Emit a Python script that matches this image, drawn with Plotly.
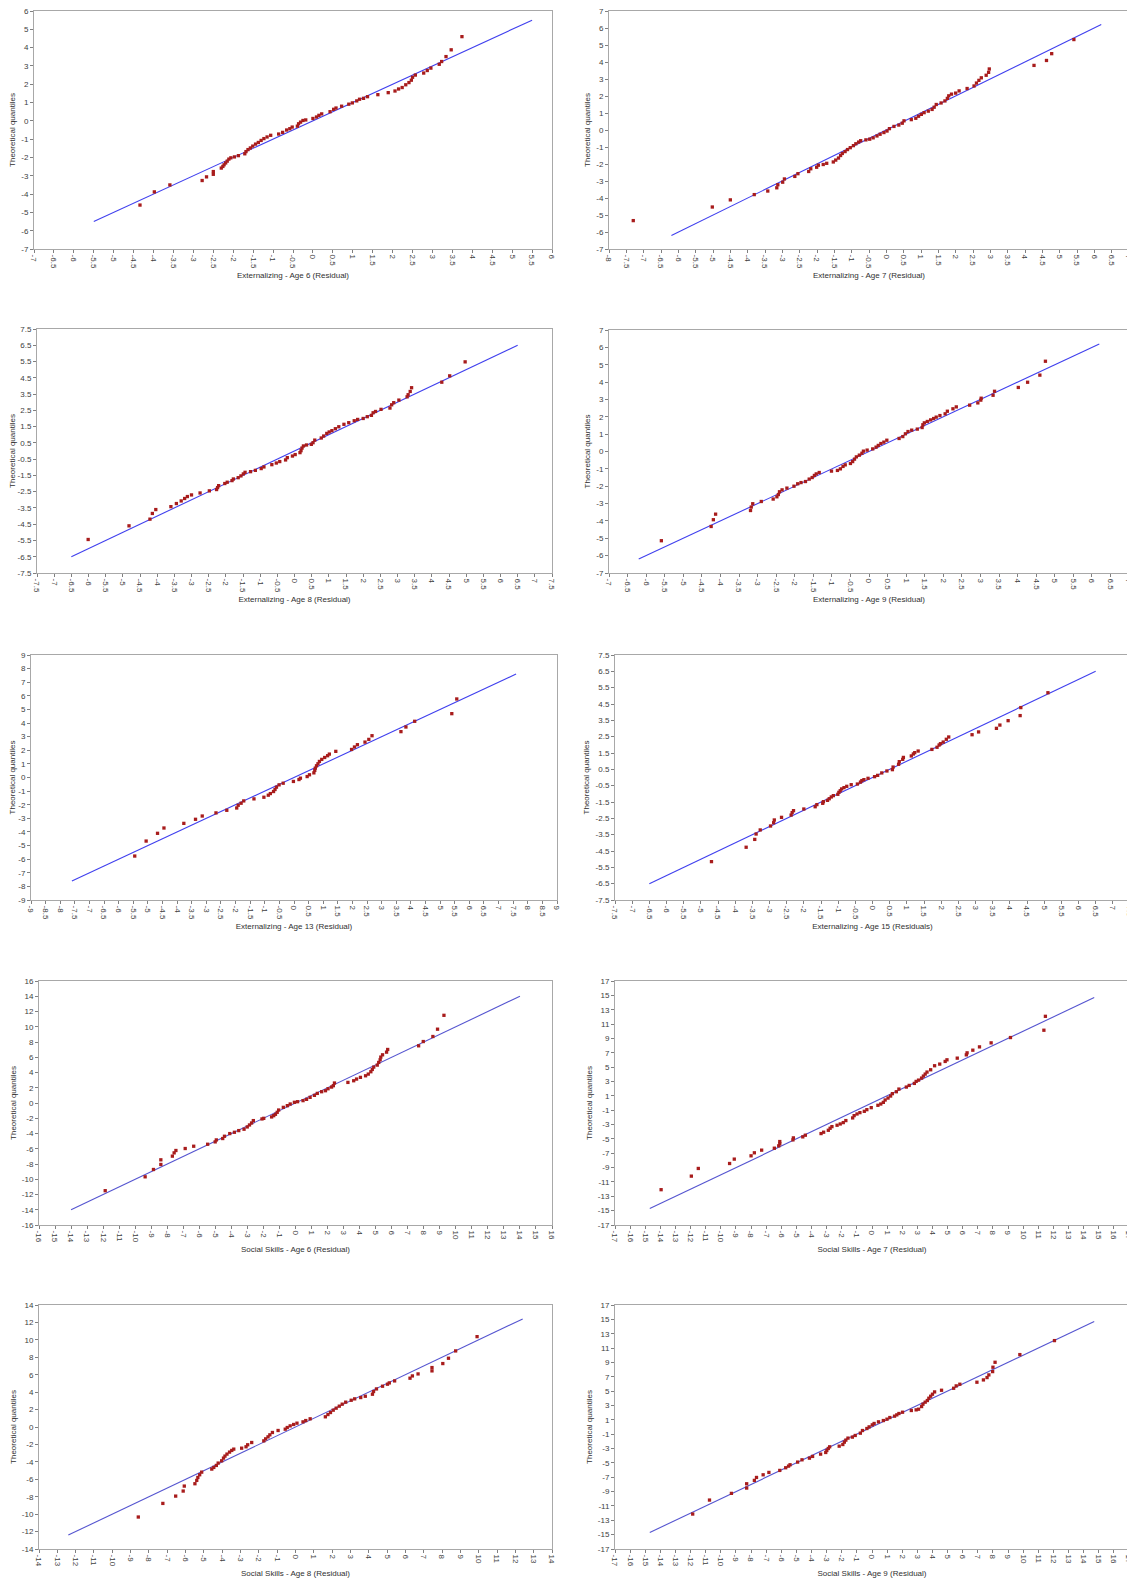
import numpy as np
import plotly.graph_objects as go

# ---------------- data (residual, theoretical quantile) ----------------
EXT6_X = [-4.34,-3.98,-3.59,-2.78,-2.67,-2.5,-2.5,-2.3,-2.26,-2.23,-2.19,-2.15,-2.11,-2.06,-1.97,-1.87,-1.71,-1.68,-1.63,-1.57,-1.51,-1.44,-1.37,-1.3,-1.23,-1.15,-1.06,-0.86,-0.76,-0.66,-0.58,-0.52,-0.39,-0.36,-0.31,-0.25,-0.18,0.0,0.09,0.15,0.22,0.43,0.52,0.58,0.72,0.9,0.99,1.1,1.17,1.27,1.37,1.63,1.89,2.06,2.15,2.24,2.33,2.41,2.47,2.5,2.57,2.78,2.87,2.96,3.17,3.23,3.34,3.47,3.74]
EXT6_Y = [-4.6,-3.88,-3.5,-3.26,-3.06,-2.92,-2.77,-2.58,-2.49,-2.4,-2.3,-2.2,-2.09,-2.02,-1.97,-1.9,-1.8,-1.68,-1.57,-1.48,-1.38,-1.27,-1.18,-1.07,-0.97,-0.88,-0.79,-0.72,-0.63,-0.5,-0.43,-0.34,-0.29,-0.16,-0.07,0.02,0.05,0.13,0.21,0.3,0.38,0.5,0.63,0.7,0.8,0.91,0.98,1.09,1.18,1.23,1.32,1.43,1.54,1.63,1.74,1.82,1.97,2.09,2.22,2.38,2.5,2.61,2.75,2.88,3.09,3.24,3.51,3.88,4.6]

EXT7_X = [-7.3,-5.02,-4.5,-3.81,-3.42,-3.16,-3.13,-2.99,-2.94,-2.64,-2.55,-2.24,-2.18,-2.01,-1.96,-1.82,-1.72,-1.53,-1.46,-1.38,-1.32,-1.27,-1.19,-1.12,-1.04,-0.95,-0.88,-0.8,-0.74,-0.59,-0.48,-0.38,-0.27,-0.18,-0.07,0.02,0.09,0.22,0.36,0.46,0.51,0.72,0.85,0.93,1.01,1.09,1.21,1.32,1.38,1.44,1.58,1.69,1.76,1.8,1.88,2.0,2.1,2.33,2.53,2.6,2.67,2.74,2.88,2.95,2.97,4.26,4.62,4.77,5.41]
EXT7_Y = [-5.33,-4.53,-4.11,-3.8,-3.59,-3.4,-3.22,-3.07,-2.88,-2.73,-2.57,-2.44,-2.28,-2.19,-2.07,-2.03,-1.96,-1.88,-1.77,-1.65,-1.5,-1.38,-1.27,-1.15,-1.04,-0.92,-0.81,-0.71,-0.63,-0.58,-0.54,-0.46,-0.35,-0.25,-0.15,-0.06,0.08,0.21,0.29,0.4,0.54,0.61,0.69,0.81,0.92,1.02,1.11,1.21,1.34,1.5,1.59,1.71,1.86,2.01,2.11,2.17,2.3,2.44,2.59,2.76,2.92,3.07,3.22,3.39,3.59,3.8,4.09,4.49,5.32]

EXT8_X = [-6.01,-4.82,-4.21,-4.14,-4.04,-3.6,-3.44,-3.3,-3.2,-3.12,-3.0,-2.75,-2.48,-2.27,-2.24,-2.21,-2.03,-1.96,-1.82,-1.78,-1.64,-1.56,-1.49,-1.44,-1.28,-1.14,-0.97,-0.89,-0.66,-0.53,-0.43,-0.26,-0.21,-0.06,0.02,0.16,0.19,0.22,0.26,0.35,0.49,0.54,0.59,0.78,0.85,0.94,1.01,1.09,1.19,1.29,1.44,1.58,1.74,1.84,2.0,2.12,2.24,2.29,2.36,2.52,2.78,2.83,2.89,3.04,3.28,3.31,3.37,3.41,4.29,4.52,4.97]
EXT8_Y = [-5.44,-4.6,-4.19,-3.84,-3.6,-3.42,-3.23,-3.07,-2.92,-2.8,-2.7,-2.58,-2.45,-2.37,-2.25,-2.13,-2.0,-1.92,-1.82,-1.72,-1.64,-1.53,-1.41,-1.31,-1.27,-1.19,-1.08,-0.98,-0.84,-0.74,-0.65,-0.55,-0.41,-0.31,-0.22,-0.1,0.02,0.18,0.31,0.37,0.41,0.51,0.67,0.8,0.92,1.08,1.17,1.25,1.37,1.49,1.64,1.74,1.86,1.94,2.0,2.11,2.19,2.35,2.43,2.56,2.64,2.84,2.97,3.13,3.33,3.46,3.66,3.89,4.23,4.62,5.48]

EXT9_X = [-5.59,-4.25,-4.19,-4.13,-3.19,-3.17,-3.13,-2.9,-2.58,-2.48,-2.44,-2.41,-2.34,-2.21,-2.02,-1.92,-1.83,-1.71,-1.61,-1.53,-1.47,-1.42,-1.34,-1.01,-0.85,-0.77,-0.7,-0.64,-0.5,-0.44,-0.39,-0.34,-0.26,-0.19,-0.15,-0.05,0.1,0.19,0.25,0.32,0.4,0.48,0.81,0.91,0.98,1.05,1.15,1.3,1.43,1.45,1.49,1.57,1.66,1.74,1.81,1.91,2.05,2.11,2.26,2.35,2.71,2.93,3.01,3.02,3.34,3.38,4.02,4.27,4.6,4.75]
EXT9_Y = [-5.14,-4.32,-3.93,-3.61,-3.4,-3.2,-3.01,-2.88,-2.74,-2.61,-2.48,-2.32,-2.21,-2.11,-2.0,-1.86,-1.79,-1.73,-1.59,-1.5,-1.38,-1.29,-1.21,-1.13,-1.09,-1.0,-0.86,-0.77,-0.69,-0.58,-0.44,-0.31,-0.21,-0.1,0.02,0.08,0.15,0.25,0.35,0.46,0.54,0.65,0.75,0.86,1.02,1.15,1.23,1.29,1.38,1.54,1.65,1.73,1.82,1.9,1.98,2.07,2.17,2.32,2.46,2.57,2.67,2.8,2.96,3.07,3.24,3.47,3.69,3.99,4.4,5.2]

EXT13_X = [-5.45,-5.06,-4.67,-4.45,-3.77,-3.37,-3.14,-2.67,-2.3,-1.96,-1.91,-1.81,-1.72,-1.37,-1.03,-0.88,-0.81,-0.7,-0.65,-0.6,-0.51,-0.37,-0.02,0.17,0.22,0.45,0.53,0.68,0.71,0.73,0.77,0.82,0.87,0.95,1.05,1.15,1.21,1.43,1.97,2.07,2.17,2.43,2.56,2.67,3.66,3.83,4.13,5.4,5.57]
EXT13_Y = [-5.77,-4.67,-4.1,-3.71,-3.37,-3.07,-2.83,-2.6,-2.41,-2.24,-2.04,-1.89,-1.72,-1.57,-1.45,-1.3,-1.18,-1.03,-0.88,-0.71,-0.54,-0.42,-0.29,-0.15,-0.05,0.07,0.2,0.34,0.52,0.69,0.86,1.01,1.18,1.33,1.47,1.6,1.72,1.92,2.06,2.24,2.41,2.6,2.8,3.07,3.37,3.71,4.13,4.69,5.77]

EXT15_X = [-4.69,-3.68,-3.43,-3.39,-3.27,-2.97,-2.88,-2.86,-2.65,-2.37,-2.34,-2.3,-2.0,-1.67,-1.62,-1.45,-1.43,-1.31,-1.26,-1.2,-1.14,-1.01,-0.98,-0.94,-0.9,-0.83,-0.75,-0.62,-0.44,-0.35,-0.31,-0.25,-0.13,0.06,0.15,0.27,0.42,0.58,0.6,0.76,0.78,0.88,0.9,1.13,1.19,1.23,1.33,1.73,1.88,1.94,1.98,2.06,2.15,2.22,2.9,3.09,3.61,3.71,3.95,4.3,4.32,5.11]
EXT15_Y = [-5.15,-4.27,-3.79,-3.46,-3.21,-2.97,-2.77,-2.6,-2.44,-2.3,-2.15,-2.03,-1.93,-1.79,-1.66,-1.58,-1.48,-1.4,-1.3,-1.19,-1.11,-1.03,-0.91,-0.81,-0.7,-0.62,-0.54,-0.44,-0.4,-0.28,-0.19,-0.13,-0.05,0.05,0.13,0.28,0.4,0.48,0.64,0.81,0.97,1.11,1.23,1.32,1.44,1.52,1.62,1.72,1.85,1.99,2.07,2.17,2.34,2.48,2.62,2.79,3.01,3.21,3.48,3.79,4.28,5.19]

SS6_X = [-11.87,-9.38,-8.86,-8.4,-8.4,-7.68,-7.57,-7.46,-6.88,-6.35,-5.48,-5.01,-4.94,-4.54,-4.43,-4.1,-3.81,-3.54,-3.21,-3.01,-2.87,-2.74,-2.63,-2.09,-1.98,-1.49,-1.36,-1.25,-1.14,-1.05,-0.76,-0.51,-0.33,-0.07,0.13,0.47,0.69,0.91,1.18,1.36,1.63,1.87,2.03,2.25,2.36,2.43,3.27,3.63,3.81,4.05,4.37,4.54,4.7,4.79,4.88,5.1,5.19,5.28,5.32,5.43,5.68,5.75,7.68,7.97,8.57,8.86,9.26]
SS6_Y = [-11.5,-9.68,-8.72,-8.06,-7.45,-6.97,-6.54,-6.23,-5.97,-5.67,-5.41,-5.1,-4.84,-4.66,-4.36,-4.01,-3.84,-3.62,-3.44,-3.14,-2.88,-2.62,-2.31,-2.09,-2.01,-1.83,-1.66,-1.48,-1.22,-0.92,-0.57,-0.35,-0.13,0.09,0.17,0.31,0.48,0.74,1.0,1.26,1.48,1.61,1.87,2.09,2.27,2.62,2.7,2.92,3.14,3.36,3.57,3.79,4.1,4.4,4.71,4.97,5.32,5.67,6.02,6.32,6.67,7.02,7.5,8.06,8.72,9.68,11.5]

SS7_X = [-13.95,-11.95,-11.49,-9.42,-9.11,-8.0,-7.78,-7.3,-6.46,-6.17,-6.1,-6.1,-5.23,-5.2,-4.58,-4.41,-3.37,-3.2,-2.89,-2.77,-2.65,-2.31,-2.1,-1.9,-1.73,-1.28,-1.18,-0.99,-0.8,-0.51,-0.34,-0.05,0.39,0.58,0.75,0.87,1.06,1.23,1.35,1.61,1.78,2.27,2.46,2.8,2.92,3.08,3.28,3.4,3.52,3.64,3.88,4.14,4.48,4.84,4.96,5.64,6.24,6.29,6.67,7.11,7.88,9.16,11.37,11.47]
SS7_Y = [-12.08,-10.19,-9.12,-8.43,-7.82,-7.36,-6.94,-6.57,-6.3,-5.97,-5.69,-5.37,-5.14,-4.86,-4.72,-4.49,-4.26,-4.07,-3.8,-3.52,-3.29,-3.1,-2.92,-2.73,-2.45,-2.08,-1.76,-1.53,-1.34,-1.16,-0.93,-0.65,-0.32,-0.14,0.09,0.42,0.69,0.97,1.3,1.57,1.94,2.22,2.45,2.73,3.01,3.19,3.47,3.75,4.03,4.31,4.63,5.19,5.42,5.79,6.02,6.25,6.71,6.99,7.36,7.82,8.38,9.12,10.14,12.08]

SS8_X = [-8.58,-7.24,-6.54,-6.13,-6.07,-5.49,-5.39,-5.33,-5.23,-5.12,-4.57,-4.46,-4.32,-4.22,-4.03,-3.93,-3.85,-3.74,-3.6,-3.48,-3.37,-2.94,-2.7,-2.61,-2.39,-1.73,-1.63,-1.5,-1.4,-1.26,-0.95,-0.56,-0.45,-0.29,-0.1,0.08,0.41,0.56,0.8,1.63,1.77,1.91,2.06,2.22,2.39,2.55,2.74,3.04,3.23,3.56,3.81,4.2,4.26,4.42,4.75,5.02,5.12,5.41,6.25,6.38,6.69,7.45,7.45,8.04,8.35,8.74,9.91]
SS8_Y = [-10.33,-8.77,-7.93,-7.35,-6.78,-6.51,-6.13,-5.79,-5.48,-5.18,-4.83,-4.64,-4.41,-4.14,-3.88,-3.57,-3.34,-3.11,-2.88,-2.69,-2.54,-2.43,-2.27,-2.04,-1.78,-1.59,-1.36,-1.13,-0.9,-0.63,-0.4,-0.25,-0.06,0.13,0.29,0.44,0.59,0.74,0.94,1.17,1.43,1.66,1.93,2.16,2.39,2.62,2.85,3.07,3.23,3.38,3.53,3.76,4.07,4.37,4.68,4.91,5.06,5.29,5.6,5.86,6.09,6.44,6.82,7.28,7.89,8.73,10.37]

SS9_X = [-11.86,-10.75,-9.3,-8.29,-8.29,-7.78,-7.64,-7.2,-6.82,-6.1,-5.71,-5.52,-5.42,-4.92,-4.63,-4.14,-3.93,-3.4,-3.06,-2.99,-2.89,-2.8,-2.17,-1.93,-1.83,-1.73,-1.59,-1.3,-1.11,-0.77,-0.63,-0.34,-0.19,0.02,0.14,0.43,0.75,0.99,1.18,1.49,1.64,1.78,2.02,2.6,2.92,3.08,3.28,3.37,3.52,3.66,3.76,3.88,4.0,4.14,4.6,5.4,5.57,5.81,6.94,7.37,7.61,7.73,7.98,8.0,8.14,9.78,12.07]
SS9_Y = [-12.13,-10.18,-9.25,-8.51,-7.91,-7.44,-7.03,-6.66,-6.33,-6.05,-5.68,-5.45,-5.26,-4.89,-4.57,-4.34,-4.1,-3.78,-3.55,-3.27,-2.99,-2.76,-2.67,-2.44,-2.11,-1.83,-1.55,-1.41,-1.18,-0.86,-0.49,-0.21,0.02,0.3,0.49,0.72,0.9,1.09,1.32,1.51,1.69,1.88,2.06,2.3,2.39,2.48,2.85,3.18,3.46,3.69,4.01,4.29,4.57,4.89,5.12,5.4,5.73,5.96,6.24,6.56,6.89,7.26,7.72,8.33,9.02,10.09,12.04]

TITLES = ["Externalizing - Age 6 (Residual)", "Externalizing - Age 7 (Residual)",
          "Externalizing - Age 8 (Residual)", "Externalizing - Age 9 (Residual)",
          "Externalizing - Age 13 (Residual)", "Externalizing - Age 15 (Residuals)",
          "Social Skills - Age 6 (Residual)", "Social Skills - Age 7 (Residual)",
          "Social Skills - Age 8 (Residual)", "Social Skills - Age 9 (Residual)"]
SERIES_X = [EXT6_X, EXT7_X, EXT8_X, EXT9_X, EXT13_X, EXT15_X, SS6_X, SS7_X, SS8_X, SS9_X]
SERIES_Y = [EXT6_Y, EXT7_Y, EXT8_Y, EXT9_Y, EXT13_Y, EXT15_Y, SS6_Y, SS7_Y, SS8_Y, SS9_Y]
# reference line half-extent (line from -a,-a to a,a)
LINE_EXTENT = [5.5, 6.2, 6.5, 6.2, 7.6, 6.5, 14.0, 14.7, 12.4, 14.7]
# axis ranges and tick steps: (min, max, step)
X_AXES = [(-7, 6, 0.5), (-8, 7, 0.5), (-7.5, 7.5, 0.5), (-7, 7, 0.5), (-9, 9, 0.5),
          (-7.5, 7.5, 0.5), (-16, 16, 1), (-17, 17, 1), (-14, 14, 1), (-17, 17, 1)]
Y_AXES = [(-7, 6, 1), (-7, 7, 1), (-7.5, 7.5, 1), (-7, 7, 1), (-9, 9, 1),
          (-7.5, 7.5, 1), (-16, 16, 2), (-17, 17, 2), (-14, 14, 2), (-17, 17, 2)]

# ---------------- layout geometry (pixels inside the figure; the page body adds an 8px offset) ----------------
W, H = 1127, 1573
BOXES = [(26, 544, 3, 241), (601, 1121, 3, 241),
         (29, 544, 321, 565), (601, 1121, 322, 565),
         (23, 549, 647, 892), (607, 1122, 647, 892),
         (31, 544, 973, 1217), (607, 1121, 973, 1217),
         (31, 544, 1297, 1541), (607, 1121, 1297, 1541)]

MARKER_COLOR = "#a81c1c"
LINE_COLORS = ["#4040ee"] * 6 + ["#5555d0"] * 4
FONT = "Liberation Sans, Arial, sans-serif"


def ticks(lo, hi, step):
    vals = np.round(np.arange(lo, hi + step / 2, step), 4)
    return list(vals), [f"{v:g}" for v in vals]


fig = go.Figure()
layout = dict(width=W, height=H, margin=dict(l=0, r=0, t=0, b=0, autoexpand=False),
              paper_bgcolor="white", plot_bgcolor="white", showlegend=False,
              font=dict(family=FONT, size=8, color="#404040"))

for i in range(10):
    n = "" if i == 0 else str(i + 1)
    xa, ya = "x" + n, "y" + n
    fig.add_trace(go.Scatter(x=[-LINE_EXTENT[i], LINE_EXTENT[i]], y=[-LINE_EXTENT[i], LINE_EXTENT[i]],
                             mode="lines", line=dict(color=LINE_COLORS[i], width=1.1),
                             xaxis=xa, yaxis=ya, hoverinfo="skip"))
    fig.add_trace(go.Scatter(x=SERIES_X[i], y=SERIES_Y[i], mode="markers",
                             marker=dict(symbol="square", size=3.3, color=MARKER_COLOR, line=dict(width=0)),
                             xaxis=xa, yaxis=ya))
    l, r, t, b = BOXES[i]
    xlo, xhi, xs = X_AXES[i]
    ylo, yhi, ys = Y_AXES[i]
    xv, xt = ticks(xlo, xhi, xs)
    yv, yt = ticks(ylo, yhi, ys)
    common = dict(showgrid=False, zeroline=False, showline=True, mirror=True, automargin=False,
                  ticklabeloverflow="allow",
                  linecolor="#a8a8a8", linewidth=1, ticks="outside", ticklen=3,
                  tickcolor="#808080", tickfont=dict(size=8, color="#404040", family=FONT))
    layout["xaxis" + n] = dict(domain=[l / W, r / W], range=[xlo, xhi], anchor=ya,
                               tickvals=xv, ticktext=xt, tickangle=90,
                               title=dict(text=TITLES[i], font=dict(size=8, color="#303030"), standoff=4),
                               **common)
    layout["yaxis" + n] = dict(domain=[1 - b / H, 1 - t / H], range=[ylo, yhi], anchor=xa,
                               tickvals=yv, ticktext=yt,
                               title=dict(text="Theoretical quantiles", font=dict(size=8, color="#303030"), standoff=4),
                               **common)

fig.update_layout(**layout)
fig.write_html("out.html")
